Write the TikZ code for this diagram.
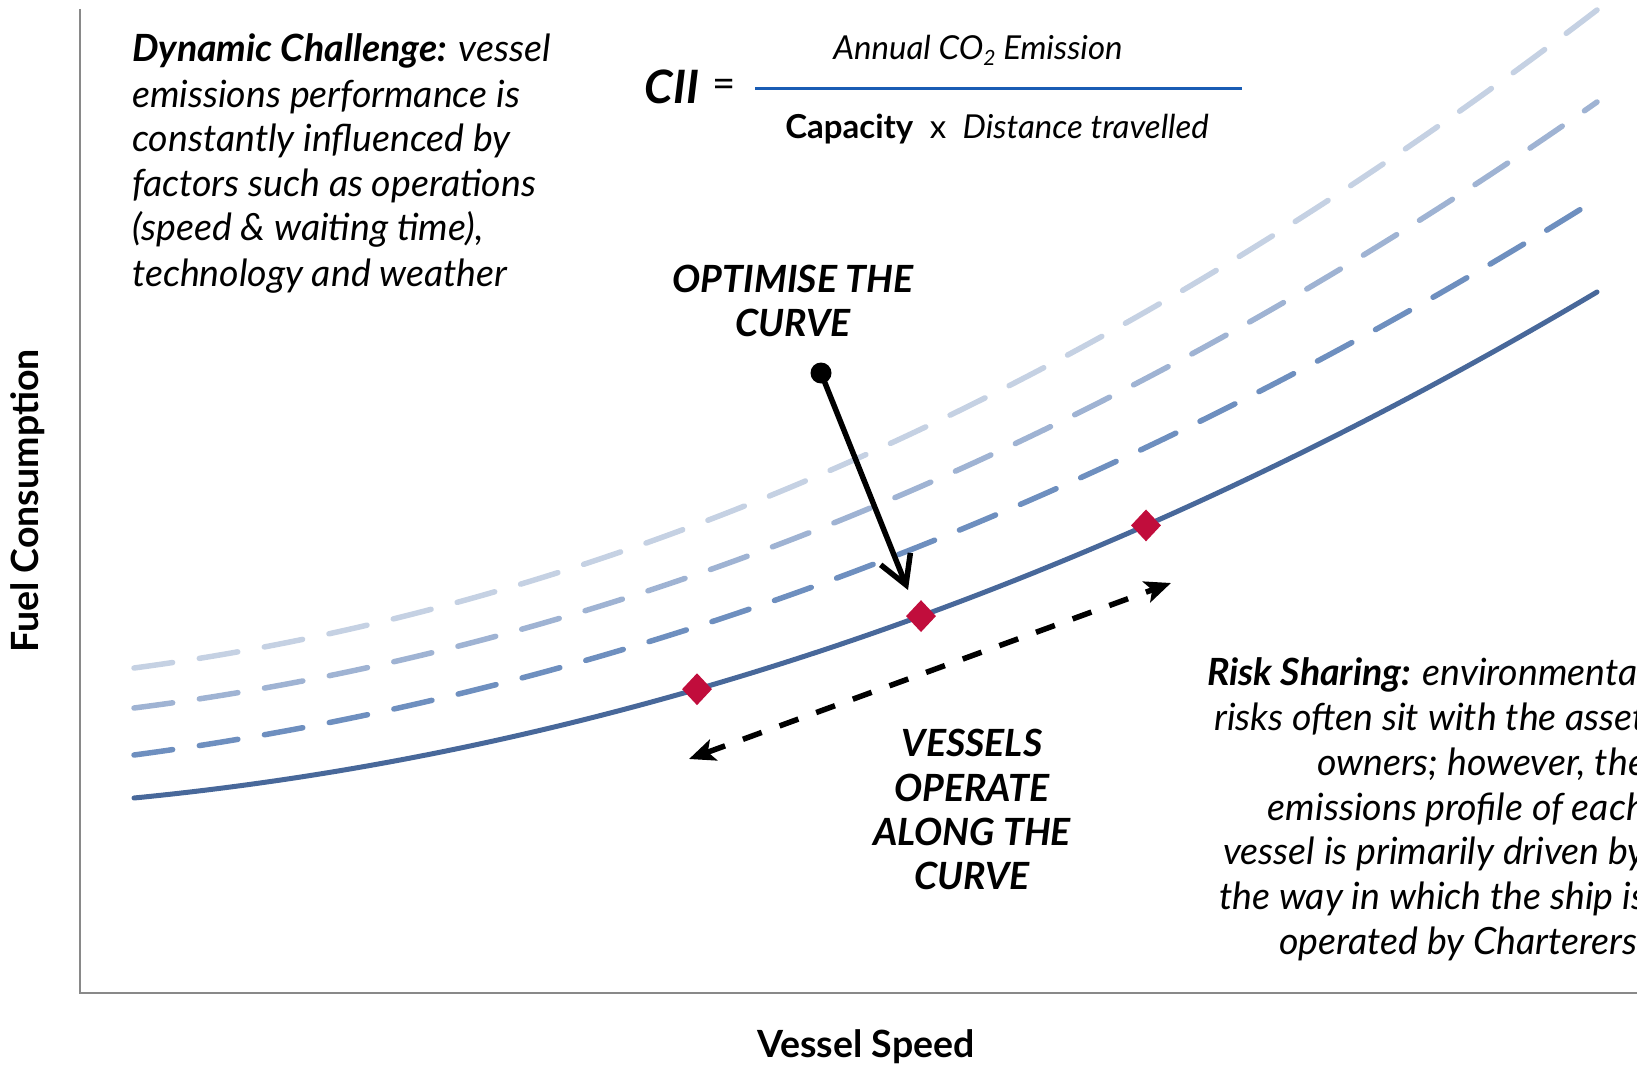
\documentclass[tikz,border=0pt]{standalone}
\usepackage{fontspec}
\setmainfont{Lato}
\usetikzlibrary{arrows.meta,shapes.geometric}
\definecolor{solidc}{RGB}{72,104,154}
\definecolor{dashc}{RGB}{110,143,191}
\definecolor{dashb}{RGB}{159,179,211}
\definecolor{dasha}{RGB}{197,209,227}
\definecolor{dmd}{RGB}{193,13,60}
\definecolor{fracc}{RGB}{25,92,180}
\definecolor{axisc}{RGB}{137,137,137}
\newcommand\myBody{\fontsize{37.5}{44}\selectfont}
\newcommand\myNum{\fontsize{33}{38}\selectfont}
\begin{document}
\begin{tikzpicture}[x=1pt,y=-1pt,
  curvedash/.style={line width=5.5pt,line cap=round,dash pattern=on 39pt off 27pt},
  txt/.style={inner sep=0pt,font=\myBody},
  mark4/.style={diamond,fill=dmd,draw=none,minimum width=30pt,minimum height=32pt,inner sep=0pt},
  axisline/.style={draw=axisc,line width=2pt}]
\useasboundingbox (0,0) rectangle (1637,1067);
% axes
\coordinate (ytop) at (80,9);
\coordinate (orig) at (80,993);
\coordinate (xend) at (1640,993);
\draw[axisline] (ytop) -- (orig) -- (xend);
% curves
\draw[curvedash,dasha] (134,668) .. controls (621.67,603) and (1109.33,383.67) .. (1597,10);
\draw[curvedash,dashb] (134,708) .. controls (621.67,646) and (1109.33,444) .. (1597,102);
\draw[curvedash,dashc] (134,755) .. controls (616.8,690.65) and (1099.6,508.4) .. (1582.4,208.15);
\draw[line width=5pt,line cap=round,solidc] (134,798) .. controls (621.67,750.33) and (1109.33,581.67) .. (1597,292);
% diamonds
\node[mark4] (d1) at (697,689.2) {};
\node[mark4] (d2) at (921,616.1) {};
\node[mark4] (d3) at (1146,525.4) {};
% optimise arrow
\node[circle,fill=black,minimum size=21pt,inner sep=0pt] (dot) at (821,373) {};
\coordinate (tip) at (908,590);
\draw[line width=5.5pt,-{Straight Barb[length=28pt,width=32pt]}] (dot.center) -- (tip);
% dashed double arrow
\coordinate (aL) at (689,759);
\coordinate (aR) at (1171,583);
\draw[line width=5.5pt,dash pattern=on 20pt off 19pt,{Stealth[length=26pt,width=22pt,inset=6pt]}-{Stealth[length=26pt,width=22pt,inset=6pt]}] (aL) -- (aR);
% formula
\node[inner sep=0pt,anchor=base,font=\fontsize{46}{50}\selectfont\bfseries\itshape] (cii) at (672,104) {CII};
\node[inner sep=0pt,font=\fontsize{40}{44}\selectfont] (eq) at (724,88) {=};
\coordinate (fl) at (755,89);
\coordinate (fr) at (1242,89);
\draw[fracc,line width=3pt] (fl) -- (fr);
\node[inner sep=0pt,anchor=base,font=\myNum\itshape] (num) at (978,60) {Annual CO\raisebox{-0.35ex}{\fontsize{21}{22}\selectfont 2} Emission};
\node[inner sep=0pt,anchor=base,font=\myNum] (den) at (997,139) {\textbf{Capacity}\enspace x\enspace\textit{Distance travelled}};
% left block
\foreach \yy/\tx [count=\i] in {62/{\textbf{Dynamic Challenge:} vessel},108/{emissions performance is},152/{constantly influenced by},197/{factors such as operations},241/{(speed \& waiting time),},286/{technology and weather}}
  \node[txt,anchor=base west,font=\myBody\itshape] (left\i) at (132,\yy) {\tx};
% right block
\foreach \yy/\tx [count=\i] in {685/{\textbf{Risk Sharing:} environmental},730/{risks often sit with the asset},775/{owners; however, the},820/{emissions profile of each},864/{vessel is primarily driven by},909/{the way in which the ship is},954/{operated by Charterers.}}
  \node[txt,anchor=base east,font=\myBody\itshape] (right\i) at (1646,\yy) {\tx};
% callouts
\node[txt,anchor=base,font=\myBody\bfseries\itshape] (opt1) at (793,292) {OPTIMISE THE};
\node[txt,anchor=base,font=\myBody\bfseries\itshape] (opt2) at (793,336) {CURVE};
\foreach \yy/\tx [count=\i] in {756/VESSELS,801/OPERATE,845/ALONG THE,889/CURVE}
  \node[txt,anchor=base,font=\myBody\bfseries\itshape] (ves\i) at (972,\yy) {\tx};
% axis labels
\node[txt,font=\myBody\bfseries,rotate=90] (ylab) at (28,501) {Fuel Consumption};
\node[txt,font=\myBody\bfseries] (xlab) at (866,1047) {Vessel Speed};
\end{tikzpicture}
\end{document}
